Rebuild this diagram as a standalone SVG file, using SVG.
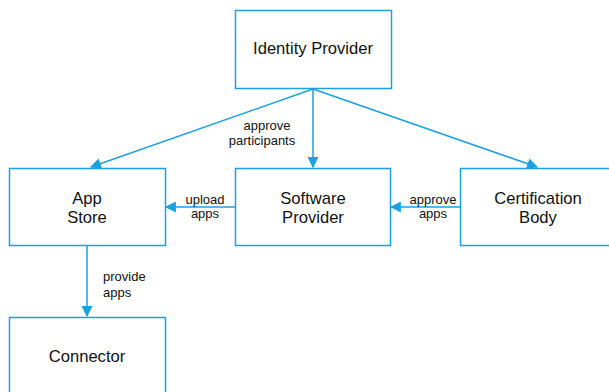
<svg xmlns="http://www.w3.org/2000/svg" width="609" height="392" viewBox="0 0 609 392">
<defs>
<style>
.box{fill:#fff;stroke:#1ba1e2;stroke-width:1.5}
.t{font-family:"Liberation Sans",Arial,sans-serif;font-size:16.6px;fill:#111;text-anchor:middle}
.l{font-family:"Liberation Sans",Arial,sans-serif;font-size:13px;fill:#111;text-anchor:middle}
.s{text-anchor:start}
.e{stroke:#1ba1e2;stroke-width:1.5;fill:none;marker-end:url(#ah)}
</style>
<marker id="ah" viewBox="0 0 10 10" refX="9" refY="5" markerWidth="11" markerHeight="11" markerUnits="userSpaceOnUse" orient="auto">
<path d="M0,0 L10,5 L0,10 z" fill="#1ba1e2"/>
</marker>
</defs>
<rect width="609" height="392" fill="#fff"/>
<g id="connectors">
<line class="e" x1="313" y1="89" x2="91" y2="167"/>
<line class="e" x1="313" y1="89" x2="313" y2="167"/>
<line class="e" x1="313" y1="89" x2="537" y2="167"/>
<line class="e" x1="235" y1="207" x2="166" y2="207"/>
<line class="e" x1="460" y1="207" x2="391" y2="207"/>
<line class="e" x1="87" y1="245" x2="87" y2="316"/>
<text class="l" x="267" y="130">approve</text>
<text class="l" x="262" y="145">participants</text>
<text class="l" x="205" y="204">upload</text>
<text class="l" x="205" y="218">apps</text>
<text class="l" x="433" y="204">approve</text>
<text class="l" x="433" y="218">apps</text>
<text class="l s" x="103" y="281">provide</text>
<text class="l s" x="103" y="297">apps</text>
</g>
<g id="identity-provider"><rect class="box" x="235.5" y="10.5" width="156" height="78"/><text class="t" x="313" y="54">Identity Provider</text></g>
<g id="app-store"><rect class="box" x="9.5" y="168.5" width="156" height="77"/><text class="t" x="87" y="204">App</text><text class="t" x="87" y="223">Store</text></g>
<g id="software-provider"><rect class="box" x="235.5" y="168.5" width="155" height="77"/><text class="t" x="313" y="204">Software</text><text class="t" x="313" y="223">Provider</text></g>
<g id="certification-body"><rect class="box" x="460.5" y="168.5" width="156" height="77"/><text class="t" x="538" y="204">Certification</text><text class="t" x="538" y="223">Body</text></g>
<g id="connector"><rect class="box" x="9.5" y="317.5" width="156" height="78"/><text class="t" x="87" y="362">Connector</text></g>
</svg>
